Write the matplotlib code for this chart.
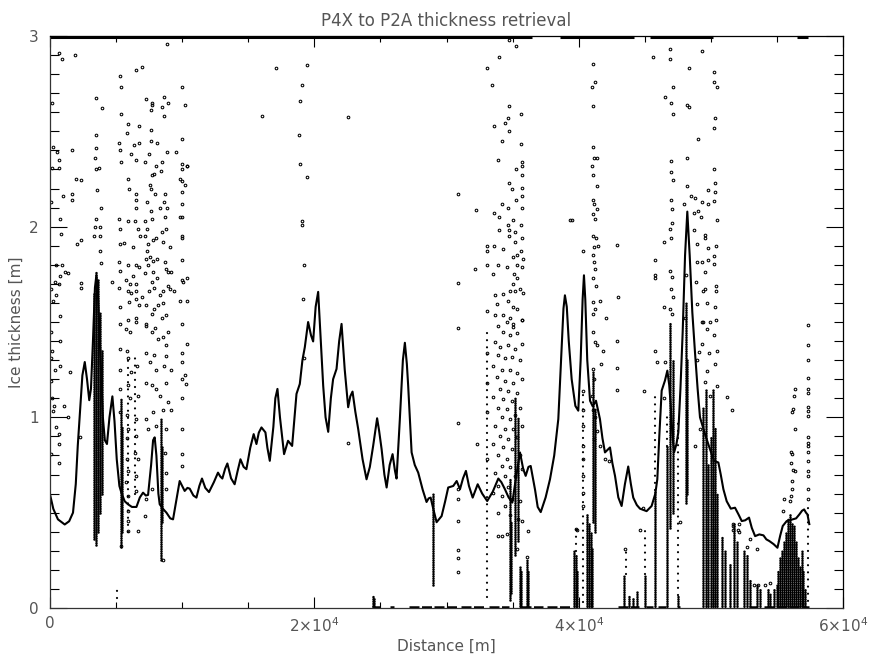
import matplotlib
matplotlib.use("Agg")
import matplotlib.pyplot as plt
from matplotlib.ticker import FixedLocator, MultipleLocator

# ---------------------------------------------------------------- smoothed thickness
line_x = [0, 250, 600, 1113, 1450, 1740, 1950, 2100, 2250, 2450, 2630, 2800, 2970, 3100, 3250,
          3400, 3510, 3620, 3800, 4000, 4150, 4310, 4500, 4720, 4880, 5050, 5250, 5400, 5650,
          5900, 6200, 6540, 6800, 7040, 7250, 7420, 7650, 7800, 7920, 8050, 8200, 8300, 8550,
          8810, 9100, 9310, 9550, 9810, 10000, 10190, 10400, 10570, 10850, 11080, 11300, 11500,
          11750, 12030, 12400, 12710, 12880, 13040, 13250, 13420, 13700, 13970, 14200, 14410,
          14650, 14860, 15150, 15410, 15620, 15800, 16000, 16300, 16450, 16630, 16900, 17050,
          17210, 17400, 17710, 18010, 18320, 18500, 18650, 18900, 19100, 19280, 19530, 19750,
          19910, 20100, 20290, 20450, 20670, 20850, 21050, 21250, 21420, 21680, 21880, 22060,
          22300, 22560, 22720, 22890, 23100, 23320, 23650, 23950, 24200, 24450, 24750, 24900,
          25090, 25300, 25470, 25700, 25920, 26100, 26220, 26470, 26700, 26850, 27000, 27100,
          27360, 27600, 27860, 28200, 28490, 28650, 28800, 29000, 29250, 29630, 29900, 30130,
          30510, 30770, 31020, 31250, 31470, 31700, 31980, 32360, 32700, 33080, 33500, 33920,
          34150, 34420, 34700, 34980, 35250, 35560, 35800, 35990, 36200, 36370, 36700, 36900,
          37130, 37500, 37830, 38150, 38460, 38700, 38850, 38960, 39100, 39250, 39470, 39750,
          39970, 40150, 40300, 40400, 40500, 40650, 40860, 41060, 41310, 41610, 41800, 41990,
          42200, 42370, 42550, 42750, 43000, 43250, 43500, 43750, 43950, 44130, 44400, 44640,
          45140, 45520, 45800, 45950, 46100, 46280, 46530, 46710, 46850, 46960, 47100, 47220,
          47400, 47540, 47700, 47870, 48050, 48220, 48400, 48600, 48800, 49000, 49180, 49560,
          49890, 50240, 50570, 50750, 50950, 51200, 51510, 51830, 52100, 52340, 52600, 52890,
          53100, 53350, 53670, 53980, 54200, 54430, 54750, 55040, 55250, 55440, 55740, 56200,
          56450, 56700, 56900, 57060, 57200, 57310, 57450]
line_y = [0.596, 0.52, 0.465, 0.438, 0.455, 0.50, 0.65, 0.85, 1.01, 1.22, 1.29, 1.20, 1.09, 1.15, 1.40,
          1.68, 1.745, 1.66, 1.35, 1.00, 0.88, 0.86, 1.00, 1.11, 0.98, 0.78, 0.64, 0.605, 0.56,
          0.544, 0.53, 0.53, 0.58, 0.605, 0.59, 0.593, 0.75, 0.88, 0.895, 0.80, 0.60, 0.544, 0.52,
          0.50, 0.47, 0.465, 0.56, 0.666, 0.64, 0.614, 0.63, 0.626, 0.59, 0.579, 0.64, 0.679,
          0.63, 0.608, 0.66, 0.71, 0.69, 0.679, 0.73, 0.758, 0.68, 0.649, 0.72, 0.78,
          0.74, 0.728, 0.84, 0.912, 0.86, 0.92, 0.947, 0.921, 0.84, 0.772, 0.95, 1.10,
          1.149, 1.00, 0.807, 0.877, 0.85, 1.00, 1.123, 1.175, 1.30, 1.368, 1.50, 1.43,
          1.398, 1.58, 1.658, 1.45, 1.166, 1.00, 0.924, 1.10, 1.20, 1.254, 1.40, 1.49,
          1.25, 1.053, 1.11, 1.135, 1.03, 0.938, 0.78, 0.675, 0.74, 0.85, 0.995, 0.93,
          0.833, 0.70, 0.632, 0.75, 0.807, 0.72, 0.679, 0.99, 1.30, 1.391, 1.28, 1.166,
          0.816, 0.75, 0.71, 0.62, 0.556, 0.575, 0.579, 0.52, 0.45, 0.482, 0.56, 0.632,
          0.64, 0.666, 0.623, 0.68, 0.719, 0.64, 0.579, 0.649, 0.60, 0.561, 0.61, 0.679,
          0.66, 0.623, 0.58, 0.553, 0.68, 0.816, 0.73, 0.693, 0.74, 0.745, 0.62, 0.53,
          0.503, 0.58, 0.675, 0.80, 0.991, 1.35, 1.57, 1.64, 1.58, 1.40, 1.20, 1.06,
          1.035, 1.30, 1.62, 1.745, 1.62, 1.30, 1.087, 1.058, 1.087, 0.991, 0.89, 0.816,
          0.83, 0.842, 0.76, 0.693, 0.58, 0.535, 0.65, 0.742, 0.65, 0.579, 0.54, 0.521,
          0.508, 0.535, 0.60, 0.675, 0.90, 1.14, 1.193, 1.245, 1.17, 1.07, 0.90, 0.816,
          0.86, 0.921, 1.15, 1.447, 1.85, 2.079, 1.85, 1.55, 1.342, 1.15, 1.00, 0.912,
          0.842, 0.772, 0.763, 0.70, 0.623, 0.56, 0.521, 0.526, 0.49, 0.456, 0.46, 0.474,
          0.42, 0.377, 0.386, 0.381, 0.36, 0.351, 0.335, 0.316, 0.38, 0.43, 0.456, 0.465,
          0.47, 0.491, 0.51, 0.517, 0.50, 0.491, 0.44]

# ---------------------------------------------------------------- individual retrievals
west_x = [680, 910, 1870, 180, 3510, 3940, 5280, 5350, 6490, 6960, 8860, 9950, 10220, 8630, 7240,
          7680, 7750, 7620, 8510, 8960, 8630, 5350, 5900, 6740, 7620, 5810, 5220, 5280, 5350, 6360,
          6710, 7620, 8100, 6160, 6540, 7220, 7500, 8510, 8860, 9520, 9950, 9950, 10330, 9950,
          3510, 3460, 3380, 3510, 3710, 3560, 3890, 3510, 3380, 3760, 3330, 3760, 3810, 3890,
          230, 530, 680, 680, 1640, 130, 2000, 2380, 980, 1640, 1640, 100, 730, 810, 2040, 2320,
          430, 940, 1140, 1390, 730, 360, 680, 2320, 2320, 100, 480, 230, 790, 4700,
          100, 730, 150, 100, 360, 1490, 730, 100, 180, 300, 230, 1360, 430, 680, 680, 100, 680,
          2250, 1060]
west_y = [2.91, 2.88, 2.90, 2.65, 2.675, 2.62, 2.79, 2.73, 2.82, 2.84, 2.96, 2.73, 2.64, 2.68, 2.67,
          2.65, 2.64, 2.61, 2.63, 2.65, 2.58, 2.59, 2.54, 2.53, 2.505, 2.49, 2.44, 2.40, 2.34, 2.43,
          2.44, 2.45, 2.44, 2.38, 2.35, 2.34, 2.38, 2.34, 2.39, 2.39, 2.46, 2.33, 2.32, 2.30,
          2.48, 2.41, 2.36, 2.30, 2.31, 2.19, 2.10, 2.04, 2.00, 2.00, 1.95, 1.95, 1.87, 1.81,
          2.42, 2.39, 2.35, 2.31, 2.40, 2.31, 2.25, 2.245, 2.16, 2.17, 2.14, 2.13, 2.04, 1.96, 1.91, 1.93,
          1.80, 1.80, 1.76, 1.755, 1.74, 1.71, 1.70, 1.705, 1.68, 1.675, 1.64, 1.61, 1.53, 1.71,
          1.45, 1.40, 1.35, 1.31, 1.25, 1.24, 1.27, 1.19, 1.10, 1.06, 1.035, 1.00, 0.947, 0.912, 0.86,
          0.807, 0.763, 0.895, 1.058]

basin_x = [5220, 5330, 5900, 5960, 6490, 6490, 6540, 6410, 6660, 5900, 5330, 5580, 6280, 6790, 7170,
           7370, 7220, 7620, 7680, 7340, 7620, 7600, 7680, 7850, 8430, 8050, 7950, 8730, 8300, 8890,
           8610, 8730, 8810, 8480, 7800, 8050, 7420, 8560, 9110, 9950, 9950, 10020, 9820, 10020,
           9820, 10200, 10020, 9950, 10370, 7370, 7550, 7240, 7800, 7420, 8100, 8730, 8810, 8930,
           9140, 10020, 9950, 10070, 10330, 5220, 5280, 5900, 6280, 6540, 6740, 5780, 6090, 6540,
           7170, 7800, 7680, 8130, 5220, 5900, 6160, 6540, 6990, 7500, 7850, 8300, 8560, 8930,
           9060, 9360, 9820, 10370, 5330, 5980, 6540, 6740, 7300, 7680, 7850, 8180, 8560, 8810,
           8510, 10020, 5280, 5900, 6490, 7300,
           5780, 6090, 6540, 7300, 7680, 7920, 8180, 8560, 8930, 8810, 9950, 9950, 10330, 10200,
           9950, 10270, 5280, 5860, 5900, 5280, 6160, 6620, 7300, 7550, 7850, 8050, 8610, 8810,
           9190, 5280, 5900, 6030, 6660, 7240, 7680, 8050, 8300, 8810, 8930, 9140, 9950, 10020,
           10020, 10020, 5280, 5860, 5900, 5830, 6490, 6540, 6410, 6660, 7300, 7420, 7800, 8050,
           8560, 8760, 8730, 8760, 5830, 5900, 5780, 5930, 5880, 5900, 5900, 5400, 6660, 6540,
           6490, 7170, 7300, 7680, 8810, 8560]
basin_y = [2.04, 1.99, 2.25, 2.20, 2.17, 2.14, 2.10, 2.03, 1.99, 2.03, 1.91, 1.915, 1.895, 1.95, 2.03,
           1.99, 1.95, 2.08, 2.04, 2.13, 2.20, 2.22, 2.27, 2.275, 2.29, 2.32, 2.17, 2.17, 2.10, 2.10,
           2.13, 2.05, 1.99, 1.97, 1.93, 1.94, 1.91, 1.92, 1.895, 1.95, 1.94, 2.05, 2.05, 2.12,
           2.25, 2.22, 2.18, 2.24, 2.32, 1.87, 1.84, 1.83, 1.82, 1.80, 1.83, 1.815, 1.78, 1.76,
           1.76, 1.825, 1.72, 1.71, 1.73, 1.815, 1.77, 1.80, 1.74, 1.80, 1.79, 1.72, 1.70, 1.70,
           1.755, 1.76, 1.71, 1.73, 1.68, 1.66, 1.65, 1.66, 1.63, 1.66, 1.68, 1.64, 1.66, 1.69,
           1.675, 1.66, 1.61, 1.61, 1.58, 1.605, 1.62, 1.59, 1.59, 1.54, 1.57, 1.59, 1.60, 1.535,
           1.52, 1.49, 1.49, 1.51, 1.52, 1.49,
           1.465, 1.45, 1.50, 1.48, 1.45, 1.47, 1.41, 1.42, 1.45, 1.38, 1.34, 1.29, 1.385, 1.22,
           1.20, 1.175, 1.36, 1.35, 1.31, 1.25, 1.24, 1.27, 1.34, 1.29, 1.325, 1.25, 1.27, 1.32,
           1.25, 1.15, 1.17, 1.10, 1.11, 1.18, 1.17, 1.15, 1.11, 1.18, 1.08, 1.04, 1.10, 0.94,
           0.81, 0.745, 1.03, 1.01, 0.94, 0.89, 0.99, 0.90, 0.815, 0.78, 0.99, 0.94, 1.03, 0.955,
           1.04, 0.94, 0.815, 0.71, 0.78, 0.72, 0.66, 0.587, 0.508, 0.456, 0.403, 0.324, 0.403, 0.614,
           0.693, 0.482, 0.57, 0.623, 0.623, 0.254]

middle_x = [17080, 16050, 19460, 19080, 18900, 18850, 18900, 19460, 19080, 19030, 19210, 19150,
            19210, 22510, 22510, 30890, 32230, 30890, 32150, 30890, 30890, 30890, 30890, 30890,
            30890, 30890, 30890, 32280, 39470, 39850]
middle_y = [2.83, 2.58, 2.85, 2.745, 2.66, 2.48, 2.33, 2.26, 2.03, 2.01, 1.80, 1.62,
            1.31, 2.575, 0.865, 2.17, 2.09, 1.705, 1.777, 1.47, 0.968, 0.623, 0.574, 0.456,
            0.303, 0.26, 0.19, 0.86, 2.035, 0.41]

ridge_x = [34750, 35230, 33970, 33080, 33460, 34750, 35630, 34670, 34420, 33590, 34750, 34170,
           35630, 33910, 35680, 35680, 35230, 35680, 34750, 35680, 34970, 35680, 35250, 34170,
           34620, 35680, 33610, 33970, 35050, 34670, 35630, 33970, 34750, 35180, 35680, 34750,
           35180, 33080, 33610, 34250, 35630, 33080, 35000, 35350, 35760, 33910, 34590, 35350,
           35680, 33030, 33490, 35130, 35310, 35000, 35560, 33660, 34250, 34800, 35180, 35760,
           33080, 33790, 34670, 35050, 35350, 33660, 34290, 34800, 35680, 33910, 35050,
           34550, 35050, 35680, 34290, 34800, 35350, 33660, 34040, 34670, 35180, 35680, 33030,
           33910, 34420, 34930, 35560, 33530, 34170, 34800, 35310, 33790, 34420, 35050, 35680,
           33030, 34040, 34670, 35350, 33530, 34290, 34930, 33910, 34550, 35560, 33030, 34170,
           34800, 35180, 33660, 34420, 35050, 35680, 34040, 34670, 35350, 33530, 34290, 34930,
           33910, 34550, 35560, 33030, 34170, 34800, 33660, 34420, 35180, 35680, 33910, 34670,
           33530, 34170, 34930, 35560, 34420, 33910, 34800, 35430, 35680, 33910, 34170, 34550,
           36190, 35350, 36110]
ridge_y = [2.98, 2.95, 2.89, 2.83, 2.745, 2.635, 2.59, 2.57, 2.545, 2.53, 2.50, 2.45,
           2.435, 2.35, 2.34, 2.32, 2.30, 2.27, 2.23, 2.205, 2.195, 2.16, 2.14, 2.12,
           2.10, 2.10, 2.07, 2.05, 2.035, 2.01, 2.01, 1.985, 1.98, 1.97, 1.94, 1.95,
           1.92, 1.90, 1.90, 1.885, 1.875, 1.87, 1.84, 1.85, 1.83, 1.80, 1.79, 1.80,
           1.79, 1.80, 1.75, 1.75, 1.73, 1.70, 1.675, 1.64, 1.645, 1.66, 1.66, 1.65,
           1.56, 1.595, 1.61, 1.58, 1.57, 1.535, 1.535, 1.52, 1.51, 1.48, 1.475,
           1.50, 1.49, 1.51, 1.45, 1.43, 1.44, 1.395, 1.37, 1.38, 1.36, 1.385, 1.34,
           1.325, 1.31, 1.315, 1.30, 1.27, 1.25, 1.25, 1.235, 1.21, 1.19, 1.18, 1.20,
           1.18, 1.15, 1.14, 1.13, 1.105, 1.095, 1.087, 1.05, 1.044, 1.05, 1.03, 1.00,
           0.99, 1.01, 0.955, 0.94, 0.94, 0.955, 0.90, 0.886, 0.895, 0.86, 0.842, 0.833,
           0.80, 0.78, 0.80, 0.78, 0.745, 0.737, 0.71, 0.693, 0.693, 0.728, 0.64, 0.632,
           0.605, 0.587, 0.57, 0.561, 0.535, 0.50, 0.49, 0.465, 0.456, 0.377, 0.377, 0.386,
           0.403, 0.307, 0.27]

central_x = [41100, 41230, 41030, 41100, 41100, 41160, 41360, 41030, 41060, 41360, 41060, 41180,
             41360, 41060, 41230, 41060, 41310, 41160, 41480, 41100, 41180, 41230, 41100, 41310,
             41060, 41230, 41610, 41100, 42070, 40350, 42880, 42950, 39340,
             41100, 41230, 41360, 41820, 42880, 42880, 41670, 42880, 41100, 41160, 40980, 41060,
             41230, 41360, 41160, 41990, 42320, 41610, 39770, 40350, 40350, 40350, 40350, 40350,
             40350, 40350, 40300]
central_y = [2.855, 2.76, 2.73, 2.635, 2.42, 2.36, 2.36, 2.32, 2.27, 2.215, 2.14, 2.12,
             2.095, 2.065, 2.04, 1.95, 1.94, 1.895, 1.90, 1.85, 1.815, 1.78, 1.73, 1.69,
             1.605, 1.57, 1.61, 1.54, 1.52, 1.875, 1.905, 1.63, 2.035,
             1.45, 1.395, 1.38, 1.35, 1.40, 1.26, 1.28, 1.145, 1.255, 1.20, 1.11, 1.04,
             1.00, 0.93, 0.886, 0.78, 0.77, 0.85, 0.415, 1.14, 1.04, 0.955, 0.85, 0.78,
             0.69, 0.605, 0.535]

east_x = [45780, 45780, 45780, 45650, 46910, 46910, 47120, 46530, 46960, 47120, 48370, 49310,
          50260, 50260, 50490, 48170, 48370, 50320, 50240, 49050, 48170, 46990, 46960, 47120,
          50240, 50320, 50320, 49810, 48170, 48480, 48800, 49310, 49810, 50260, 46960, 47040,
          49050, 47970, 49260, 48750, 50490, 47040, 46910, 46990, 46460, 48750, 49560, 49560,
          48930, 49810, 50390, 50260, 48930, 49310, 49810, 50260, 46910, 47040, 48110, 49560,
          48880, 49390, 49560, 46960, 47120, 46480, 46910, 47040, 48050, 48930, 49690, 49310,
          49940, 50390, 50320, 50370, 50370,
          44940, 45780, 45950, 46530, 46460, 49430, 49740, 49310, 49890, 49130, 50240, 50450,
          48930, 49690, 50320, 48800, 49180, 49560, 49940, 50450, 51200, 51580, 44890, 44640,
          43510, 47670, 51700, 52080, 52970, 52720, 53480, 51660, 51660, 52160, 52160, 53300,
          53600, 54100, 54500]
east_y = [1.825, 1.745, 1.73, 2.89, 2.93, 2.88, 2.73, 2.68, 2.65, 2.59, 2.83, 2.92,
          2.81, 2.76, 2.73, 2.64, 2.63, 2.57, 2.52, 2.46, 2.36, 2.345, 2.285, 2.245,
          2.30, 2.23, 2.18, 2.19, 2.215, 2.16, 2.15, 2.13, 2.12, 2.135, 2.14, 2.095,
          2.08, 2.12, 2.05, 2.07, 2.035, 2.02, 1.99, 1.94, 1.92, 1.985, 1.955, 1.94,
          1.91, 1.89, 1.90, 1.845, 1.815, 1.815, 1.825, 1.805, 1.77, 1.735, 1.745, 1.76,
          1.71, 1.66, 1.675, 1.675, 1.63, 1.58, 1.57, 1.54, 1.52, 1.595, 1.60, 1.50,
          1.50, 1.51, 1.58, 1.69, 1.66,
          1.14, 1.35, 1.29, 1.29, 1.10, 1.50, 1.465, 1.385, 1.34, 1.345, 1.43, 1.35,
          1.30, 1.245, 1.28, 0.85, 0.94, 1.185, 1.11, 1.165, 1.105, 1.04, 0.526, 0.41,
          0.31, 0.45, 0.43, 0.41, 0.36, 0.32, 0.307, 0.44, 0.41, 0.44, 0.40, 0.12,
          0.12, 0.12, 0.13]

floe_x = [57380, 56370, 56320, 56120, 56240, 56370, 56070, 56170, 56070, 56200, 56370, 56150,
          56120, 56070, 55570, 56000, 55490, 57380, 57380, 57380, 57380, 57380, 57380, 57380,
          57380, 57380, 57380, 57380, 57380, 57380, 57380, 57380, 57380, 57380]
floe_y = [1.485, 1.15, 1.11, 1.026, 1.044, 0.94, 0.82, 0.81, 0.763, 0.724, 0.72, 0.666,
          0.623, 0.59, 0.57, 0.56, 0.508, 1.38, 1.30, 1.205, 1.149, 1.13, 1.053, 1.035,
          1.009, 0.895, 0.868, 0.85, 0.82, 0.77, 0.72, 0.69, 0.626, 0.574]

# ---------------------------------------------------------------- densely sampled stretches
dense_x = [3300, 3450, 3600, 3750, 3900, 5400, 5450, 8430, 8480,
           24450, 24550, 29000, 34800, 34850, 35200, 35400, 35560, 35620, 36110, 36160,
           39650, 39800, 39900, 40650, 40780, 40900, 41020, 41050, 41200,
           43450, 43800, 44100, 44400, 45000, 45750, 46650, 46900, 47100, 47550, 48100, 48200,
           49400, 49600, 49800, 50000, 50200, 50350, 50500, 50850, 51100, 51450, 51750, 51950,
           52500, 52700, 52950, 53500, 53700, 54300, 54500, 54750, 55000,
           55100, 55250, 55400, 55550, 55700, 55850, 56000, 56150, 56300, 56450, 56600, 56750,
           56900, 57000, 57150]
dense_lo = [0.36, 0.33, 0.40, 0.50, 0.60, 0.32, 0.40, 0.25, 0.45,
            0.0, 0.0, 0.12, 0.04, 0.08, 0.28, 0.35, 0.0, 0.0, 0.0, 0.0,
            0.0, 0.0, 0.0, 0.0, 0.0, 0.0, 0.0, 0.45, 0.40,
            0.0, 0.0, 0.0, 0.0, 0.0, 0.0, 0.0, 0.42, 0.50, 0.0, 0.55, 0.60,
            0.0, 0.0, 0.0, 0.0, 0.0, 0.0, 0.0, 0.0, 0.0, 0.0, 0.0, 0.0,
            0.0, 0.0, 0.0, 0.0, 0.0, 0.0, 0.0, 0.0, 0.0,
            0.0, 0.0, 0.0, 0.0, 0.0, 0.0, 0.0, 0.0, 0.0, 0.0, 0.0, 0.0,
            0.0, 0.0, 0.0]
dense_hi = [1.65, 1.76, 1.72, 1.55, 1.35, 1.10, 0.95, 0.99, 0.85,
            0.07, 0.05, 0.60, 0.68, 0.45, 1.10, 1.00, 0.22, 0.20, 0.25, 0.20,
            0.30, 0.28, 0.20, 0.50, 0.45, 0.40, 0.32, 1.25, 1.05,
            0.18, 0.07, 0.06, 0.09, 0.18, 0.62, 0.85, 1.50, 1.30, 0.07, 1.60, 1.30,
            1.05, 1.15, 0.75, 0.90, 1.15, 0.95, 0.60, 0.38, 0.30, 0.23, 0.45, 0.35,
            0.30, 0.28, 0.15, 0.12, 0.10, 0.10, 0.08, 0.10, 0.12,
            0.20, 0.27, 0.30, 0.35, 0.40, 0.47, 0.50, 0.45, 0.43, 0.35, 0.26, 0.22,
            0.30, 0.20, 0.10]

sparse_x = [5070, 5900, 6450, 33050, 40330, 39800, 43550, 45000, 45750, 46650, 47550, 57380]
sparse_lo = [0.05, 0.40, 0.60, 0.06, 0.03, 0.30, 0.18, 0.18, 0.62, 0.85, 0.07, 0.0]
sparse_hi = [0.10, 1.30, 1.34, 1.48, 1.15, 0.42, 0.30, 0.41, 1.12, 1.00, 1.00, 0.53]

# retrievals clipped at the top of the range, and near-zero returns along the bottom
top_lo = [0, 38600, 45400, 56500]
top_hi = [36500, 44200, 50150, 57350]
base_lo = [24400, 25700, 27200, 31100, 33200, 35600, 37600, 43000, 45100, 46000, 47500, 52900, 54000]
base_hi = [25000, 26000, 30900, 33000, 34700, 37300, 39500, 44600, 45600, 46600, 47700, 53500, 57400]

x_ticks = [0, 20000, 40000, 60000]
x_ticklabels = ["0", r"$2{\times}10^{4}$", r"$4{\times}10^{4}$", r"$6{\times}10^{4}$"]
y_ticks = [0, 1, 2, 3]
y_ticklabels = ["0", "1", "2", "3"]

# ---------------------------------------------------------------- figure
text_col = "#555555"
fig = plt.figure(figsize=(8.69, 6.55), dpi=100)
ax = fig.add_axes([50 / 869, 47 / 655, 793 / 869, 572 / 655])
ax.set_xlim(0, 60000)
ax.set_ylim(0, 3)

marker_kw = dict(linestyle="none", marker="o", markersize=1.9, markerfacecolor="none",
                 markeredgecolor="black", markeredgewidth=0.75)
for xs, ys in [(west_x, west_y), (basin_x, basin_y), (middle_x, middle_y),
               (ridge_x, ridge_y), (central_x, central_y), (east_x, east_y), (floe_x, floe_y)]:
    ax.plot(xs, ys, **marker_kw)

dense = ax.vlines(dense_x, dense_lo, dense_hi, colors="black", linewidth=1.9,
                  linestyles=(0, (0.01, 0.85)))
dense.set_capstyle("round")
sparse = ax.vlines(sparse_x, sparse_lo, sparse_hi, colors="black", linewidth=1.6,
                   linestyles=(0, (0.01, 3.2)))
sparse.set_capstyle("round")
ax.hlines([2.996] * len(top_lo), top_lo, top_hi, colors="black", linewidth=2.2, clip_on=False)
ax.hlines([0.006] * len(base_lo), base_lo, base_hi, colors="black", linewidth=1.8,
          linestyles=(0, (4, 1)))

ax.plot(line_x, line_y, color="black", linewidth=1.5)

# axes, ticks and labels
for side in ["top", "right", "bottom", "left"]:
    ax.spines[side].set_linewidth(0.9)
    ax.spines[side].set_color("black")
ax.spines["left"].set_color("#333333")
ax.spines["bottom"].set_color("#333333")

ax.xaxis.set_major_locator(FixedLocator(x_ticks))
ax.set_xticklabels(x_ticklabels)
ax.xaxis.set_minor_locator(MultipleLocator(5000))
ax.yaxis.set_major_locator(FixedLocator(y_ticks))
ax.set_yticklabels(y_ticklabels)
ax.yaxis.set_minor_locator(MultipleLocator(0.1))

ax.tick_params(axis="x", which="major", direction="in", length=8, width=0.8,
               top=True, bottom=True, labelsize=11, labelcolor=text_col, pad=6)
ax.tick_params(axis="x", which="minor", direction="in", length=4.5, width=0.8,
               top=True, bottom=True)
ax.tick_params(axis="y", which="major", direction="in", length=12, width=0.8,
               left=True, right=True, labelsize=11, labelcolor=text_col, pad=8)
ax.tick_params(axis="y", which="minor", direction="in", length=6.5, width=0.8,
               left=True, right=True)

ax.set_xlabel("Distance [m]", fontsize=11, color=text_col, labelpad=3)
ax.set_ylabel("Ice thickness [m]", fontsize=11, color=text_col, labelpad=4)
ax.set_title("P4X to P2A thickness retrieval", fontsize=12, color=text_col, pad=7)

fig.savefig("out.png", dpi=100)
